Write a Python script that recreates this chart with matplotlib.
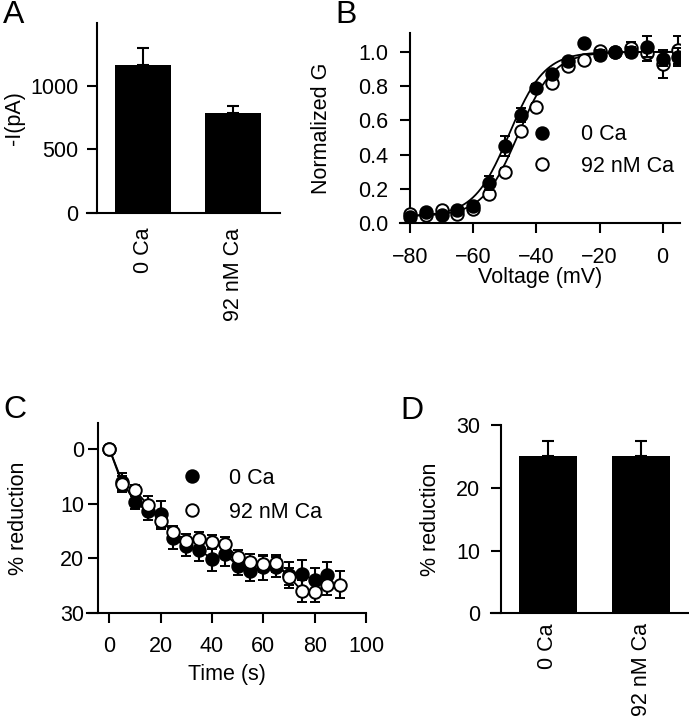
import matplotlib
matplotlib.use("Agg")
import matplotlib.pyplot as plt
import numpy as np
from matplotlib.lines import Line2D

plt.rcParams['font.family'] = ['Liberation Sans', 'DejaVu Sans']
FS = 15.5

# ---------------- data ----------------
groups = ["0 Ca", "92 nM Ca"]
current_mean = [1170, 785]
current_err = [130, 60]

volt = [-80, -75, -70, -65, -60, -55, -50, -45, -40, -35, -30, -25, -20, -15, -10, -5, 0, 5]
g_0ca = [0.035, 0.064, 0.045, 0.078, 0.10, 0.234, 0.45, 0.63, 0.79, 0.873, 0.945, 1.05, 0.98, 1.0, 1.0, 1.03, 0.96, 0.97]
g_0ca_err = [0.01, 0.01, 0.01, 0.01, 0.01, 0.04, 0.06, 0.04, 0.02, 0.02, 0.01, 0.02, 0.03, 0.01, 0.03, 0.06, 0.04, 0.05]
g_92 = [0.05, 0.045, 0.075, 0.055, 0.08, 0.17, 0.30, 0.535, 0.68, 0.815, 0.915, 0.95, 1.005, 1.0, 1.02, 0.995, 0.93, 1.01]
g_92_err = [0.01, 0.01, 0.01, 0.01, 0.01, 0.02, 0.02, 0.02, 0.02, 0.02, 0.01, 0.01, 0.01, 0.01, 0.04, 0.05, 0.08, 0.08]
# Boltzmann fit parameters (V1/2, slope, bottom, top)
fit_0ca = (-48.6, 5.6, 0.04, 1.0)
fit_92 = (-45.7, 5.6, 0.04, 1.0)

t_0ca = [0, 5, 10, 15, 20, 25, 30, 35, 40, 45, 50, 55, 60, 65, 70, 75, 80, 85]
red_0ca = [0, 6.0, 9.7, 11.4, 11.9, 16.3, 17.8, 18.4, 20.1, 19.2, 21.3, 22.2, 21.6, 21.5, 23.0, 22.8, 24.0, 23.1]
red_0ca_err = [0, 1.5, 1.2, 1.5, 2.3, 2.0, 1.8, 2.0, 2.2, 2.2, 1.8, 2.0, 2.3, 1.8, 2.3, 2.5, 2.2, 2.5]
t_92 = [0, 5, 10, 15, 20, 25, 30, 35, 40, 45, 50, 55, 60, 65, 70, 75, 80, 85, 90]
red_92 = [0, 6.4, 7.6, 10.2, 13.1, 15.2, 16.8, 16.4, 17.0, 17.4, 19.8, 20.7, 21.0, 20.9, 23.3, 25.9, 26.2, 24.8, 24.8]
red_92_err = [0, 1.5, 1.0, 1.5, 1.5, 1.2, 1.3, 1.3, 1.3, 1.3, 1.3, 1.5, 1.5, 1.5, 1.5, 2.0, 1.8, 1.8, 2.5]

final_mean = [25.0, 25.0]
final_err = [2.4, 2.5]

# ---------------- layout ----------------
W, H = 689, 720
fig = plt.figure(figsize=(W / 100, H / 100), dpi=100)

def axes_px(l, r, b, t):
    return fig.add_axes([l / W, 1 - b / H, (r - l) / W, (b - t) / H])

TL = 7.2  # tick length in points (~10 px)

def style(ax, ypad=7, xpad=10):
    for s in ['top', 'right']:
        ax.spines[s].set_visible(False)
    for s in ['left', 'bottom']:
        ax.spines[s].set_linewidth(1.5)
    ax.tick_params(direction='out', length=TL, width=1.5, labelsize=FS)
    ax.tick_params(axis='y', pad=ypad)
    ax.tick_params(axis='x', pad=xpad)

axA = axes_px(86.7, 280, 212.7, 22.7)
axB = axes_px(400, 680, 223, 33)
axC = axes_px(87, 366, 613.3, 423)
axD = axes_px(490.7, 689, 613.3, 425)

# ---------------- A ----------------
style(axA, ypad=6.5)
xpos = np.arange(len(groups))
axA.bar(xpos, current_mean, width=0.62, color='black')
axA.errorbar(xpos, current_mean, yerr=[[0] * len(groups), current_err], fmt='none',
             ecolor='black', elinewidth=1.5, capsize=4, capthick=1.5)
axA.set_xlim(-0.63, 1.52)
axA.set_ylim(0, 1500)
axA.spines['left'].set_position(('data', -0.51))
axA.set_yticks([0, 500, 1000])
axA.set_xticks(xpos)
axA.set_xticklabels(groups, rotation=90, va='top', ha='center')
axA.tick_params(axis='x', length=0, pad=11)
axA.set_ylabel('-I(pA)', fontsize=FS)
axA.yaxis.set_label_coords(-0.32, 0.5)

# ---------------- B ----------------
style(axB, ypad=8.5, xpad=10)
def boltz(v, p):
    vh, k, b, t = p
    return b + (t - b) / (1 + np.exp((vh - v) / k))
vv = np.linspace(-80, 5, 300)
axB.plot(vv, boltz(vv, fit_0ca), color='black', lw=1.3, zorder=2)
axB.plot(vv, boltz(vv, fit_92), color='black', lw=1.3, zorder=2)
axB.errorbar(volt, g_92, yerr=g_92_err, fmt='o', ms=9, mfc='white', mec='black', mew=1.4,
             ecolor='black', elinewidth=1.5, capsize=3.5, capthick=1.5, zorder=3)
axB.errorbar(volt, g_0ca, yerr=g_0ca_err, fmt='o', ms=9, mfc='black', mec='black', mew=1.4,
             ecolor='black', elinewidth=1.5, capsize=3.5, capthick=1.5, zorder=4)
axB.set_xlim(-83.2, 5.5)
axB.set_ylim(0, 1.11)
axB.spines['left'].set_position(('data', -80))
axB.set_xticks([-80, -60, -40, -20, 0])
axB.set_yticks([0, 0.2, 0.4, 0.6, 0.8, 1.0])
axB.set_yticklabels(['0.0', '0.2', '0.4', '0.6', '0.8', '1.0'])
axB.set_xlabel('Voltage (mV)', fontsize=FS, labelpad=-1)
axB.set_ylabel('Normalized G', fontsize=FS)
axB.yaxis.set_label_coords(-0.243, 0.5)
hB = [Line2D([], [], ls='none', marker='o', ms=9, mfc='black', mec='black', mew=1.4),
      Line2D([], [], ls='none', marker='o', ms=9, mfc='white', mec='black', mew=1.4)]
axB.legend(hB, groups, loc='upper left', bbox_to_anchor=(0.469, 0.52), frameon=False,
           fontsize=FS, handlelength=1.0, handletextpad=1.3, labelspacing=0.5,
           borderpad=0, borderaxespad=0)

# ---------------- C ----------------
style(axC, ypad=2.7, xpad=9)
axC.errorbar(t_0ca, red_0ca, yerr=red_0ca_err, fmt='-o', ms=9, mfc='black', mec='black', mew=1.4,
             color='black', lw=1.3, ecolor='black', elinewidth=1.5, capsize=3.5, capthick=1.5, zorder=3)
axC.errorbar(t_92, red_92, yerr=red_92_err, fmt='-o', ms=9, mfc='white', mec='black', mew=1.4,
             color='black', lw=1.3, ecolor='black', elinewidth=1.5, capsize=3.5, capthick=1.5, zorder=4)
axC.set_xlim(-8.7, 100)
axC.set_ylim(30, -4.7)
axC.spines['left'].set_position(('data', -4.5))
axC.set_xticks([0, 20, 40, 60, 80, 100])
axC.set_yticks([0, 10, 20, 30])
axC.set_xlabel('Time (s)', fontsize=FS, labelpad=5)
axC.set_ylabel('% reduction', fontsize=FS)
axC.yaxis.set_label_coords(-0.208, 0.5)
hC = [Line2D([], [], ls='none', marker='o', ms=9, mfc='black', mec='black', mew=1.4),
      Line2D([], [], ls='none', marker='o', ms=9, mfc='white', mec='black', mew=1.4)]
axC.legend(hC, groups, loc='upper left', bbox_to_anchor=(0.337, 0.765), frameon=False,
           fontsize=FS, handlelength=1.0, handletextpad=1.25, labelspacing=0.6,
           borderpad=0, borderaxespad=0)

# ---------------- D ----------------
style(axD, ypad=7.5)
axD.bar(xpos, final_mean, width=0.62, color='black')
axD.errorbar(xpos, final_mean, yerr=[[0] * len(groups), final_err], fmt='none',
             ecolor='black', elinewidth=1.5, capsize=4, capthick=1.5)
axD.set_xlim(-0.616, 1.516)
axD.set_ylim(0, 30)
axD.spines['left'].set_position(('data', -0.51))
axD.set_yticks([0, 10, 20, 30])
axD.set_xticks(xpos)
axD.set_xticklabels(groups, rotation=90, va='top', ha='center')
axD.tick_params(axis='x', length=0, pad=7)
axD.set_ylabel('% reduction', fontsize=FS)
axD.yaxis.set_label_coords(-0.25, 0.5)

# ---------------- panel letters ----------------
for txt, x, y in [('A', 3, 23), ('B', 335, 23), ('C', 3, 418), ('D', 400, 419)]:
    fig.text(x / W, 1 - y / H, txt, fontsize=23, ha='left', va='baseline')

fig.savefig('out.png', dpi=100)
